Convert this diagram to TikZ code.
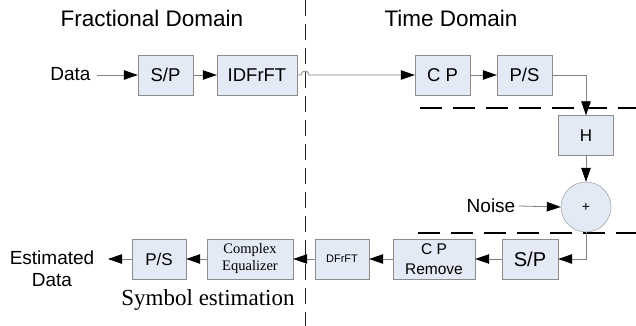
\documentclass[tikz,border=0pt]{standalone}
\usepackage{fontspec}
\setmainfont{Liberation Sans}
\newfontfamily\serifface{Liberation Serif}
\usetikzlibrary{arrows.meta,calc,positioning}

\definecolor{boxfill}{RGB}{227,233,245}
\definecolor{boxline}{RGB}{140,140,140}

\begin{document}
\begin{tikzpicture}[x=1pt,y=-1pt,
  blk/.style={draw=boxline,fill=boxfill,minimum height=40pt,inner sep=0pt,
    align=center,font=\fontsize{18.5}{21}\selectfont},
  lbl/.style={inner sep=0pt,align=center,font=\fontsize{19}{22}\selectfont},
  conn/.style={draw=gray,line width=0.8pt,
    -{Triangle[length=14pt,width=9.5pt,color=black,fill=black]}},
  split/.style={black,line width=1.4pt,dash pattern=on 22pt off 11pt}]
  \useasboundingbox (0,0) rectangle (636,326);

  % domain headings and the border between them
  \node[font=\fontsize{22.5}{26}\selectfont] (fracdom) at (152,18) {Fractional Domain};
  \node[font=\fontsize{22.5}{26}\selectfont] (timedom) at (451,18) {Time Domain};
  \coordinate (bordertop) at (305,0);
  \coordinate (borderbot) at (305,326);
  \draw[black!85,line width=0.8pt,dash pattern=on 16pt off 8pt] (bordertop) -- (borderbot);

  % transmitter
  \node[lbl] (data) at (70.5,74) {Data};
  \node[blk,minimum width=55pt] (sptx) at (165.5,75) {S/P};
  \node[blk,minimum width=80pt] (idfrft) at (257,75) {IDFrFT};
  \node[blk,minimum width=55pt] (cp) at (442.5,75) {C P};
  \node[blk,minimum width=55pt] (pstx) at (524.5,75) {P/S};

  % channel
  \node[blk,minimum width=55pt,font=\fontsize{17}{20}\selectfont] (chan) at (586,135.5) {H};
  \node[draw=boxline,fill=boxfill,circle,minimum size=50pt,inner sep=0pt,
    font=\fontsize{14}{16}\selectfont] (sum) at (586,207) {+};
  \node[lbl] (noise) at (491,206) {Noise};

  % receiver
  \node[blk,minimum width=56pt,font=\fontsize{20}{22}\selectfont] (sprx) at (530,259) {S/P};
  \node[blk,minimum width=82pt,font=\fontsize{15.5}{20}\selectfont] (cprm) at (434,259) {C P\\Remove};
  \node[blk,minimum width=54pt,font=\fontsize{11}{13}\selectfont] (dfrft) at (342,259) {DFrFT};
  \node[blk,minimum width=86pt,font=\serifface\fontsize{14.5}{17}\selectfont] (equal) at (250,259) {Complex\\Equalizer};
  \node[blk,minimum width=54pt,font=\fontsize{17}{20}\selectfont] (psrx) at (159,259) {P/S};
  \node[lbl] (estdata) at (52,269) {Estimated\\Data};
  \node[font=\serifface\fontsize{23}{26}\selectfont] (symest) at (208,300) {Symbol estimation};

  % dashed channel limits
  \coordinate (upl) at (420,108);
  \coordinate (upr) at (636,108);
  \coordinate (lol) at (418,233);
  \coordinate (lor) at (636,233);
  \draw[split] (upl) -- (upr);
  \draw[split] (lol) -- (lor);

  % signal flow
  \coordinate (datain) at (97,75);
  \coordinate (estout) at (108,259);
  \draw[conn] (datain) -- (sptx.west |- datain);
  \draw[conn] (sptx) -- (idfrft);
  \draw[conn] (idfrft.east) -- (301,75) arc (180:360:4) -- (cp.west);
  \draw[conn] (cp) -- (pstx);
  \draw[conn] (pstx.east) -| (chan.north);
  \draw[conn] (chan) -- (sum);
  \draw[conn] (noise.east) ++(3,0) -- (sum.west);
  \draw[conn] (sum.south) |- (sprx.east);
  \draw[conn] (sprx) -- (cprm);
  \draw[conn] (cprm) -- (dfrft);
  \draw[conn] (dfrft) -- (equal);
  \draw[conn] (equal) -- (psrx);
  \draw[conn] (psrx.west) -- (estout);
\end{tikzpicture}
\end{document}
